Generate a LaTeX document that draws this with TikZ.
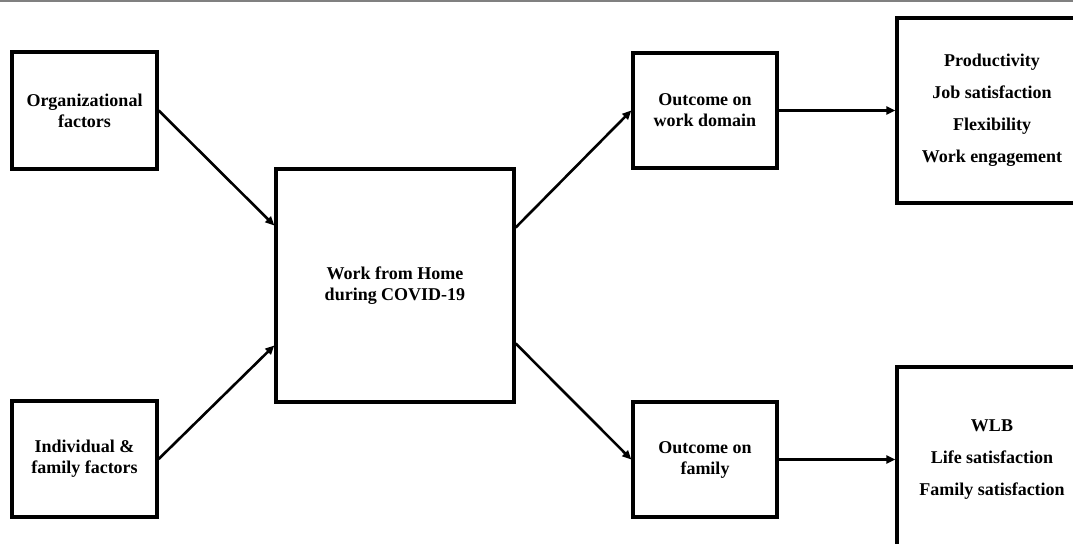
\documentclass[tikz,border=0pt]{standalone}
\usepackage{fontspec}
\setmainfont{Liberation Serif}
\usetikzlibrary{arrows.meta}

\tikzset{
	box/.style={draw, line width=1.7pt, align=center, inner sep=0pt, font=\bfseries\fontsize{9}{10.5}\selectfont},
	listbox/.style={box, font=\bfseries\fontsize{9}{16}\selectfont},
	link/.style={-{Triangle[length=4.5pt,width=4pt]}, line width=1.3pt}
}

\begin{document}
\begin{tikzpicture}[x=0.5pt, y=-0.5pt]
	\useasboundingbox (0,0) rectangle (1073,544);
	\clip (0,0) rectangle (1073,544);
	\draw[gray, line width=1pt] (0,1) -- (1073,1);

	\node[box, minimum width=72.5pt, minimum height=58.5pt] (org) at (84.5,110.5) {Organizational\\factors};
	\node[box, minimum width=72.5pt, minimum height=58pt] (ind) at (84.5,459) {Individual \&\\family factors};
	\node[box, minimum width=119pt, minimum height=116.5pt] (wfh) at (395,285.5) {Work from Home\\during COVID-19};
	\node[box, minimum width=72pt, minimum height=57.5pt] (outw) at (705,110.5) {Outcome on\\work domain};
	\node[box, minimum width=72pt, minimum height=57.5pt] (outf) at (705,459.5) {Outcome on\\family};
	\node[listbox, minimum width=95pt, minimum height=92.5pt] (resw) at (992,110.5) {Productivity\\Job satisfaction\\Flexibility\\Work engagement};
	\node[listbox, minimum width=95pt, minimum height=92.5pt] (resf) at (992,459.5) {WLB\\Life satisfaction\\Family satisfaction};

	\draw[link] (org.east) -- ([yshift=30pt]wfh.west);
	\draw[link] (ind.east) -- ([yshift=-30pt]wfh.west);
	\draw[link] ([yshift=29pt]wfh.east) -- (outw.west);
	\draw[link] ([yshift=-29pt]wfh.east) -- (outf.west);
	\draw[link] (outw.east) -- (resw.west);
	\draw[link] (outf.east) -- (resf.west);
\end{tikzpicture}
\end{document}
